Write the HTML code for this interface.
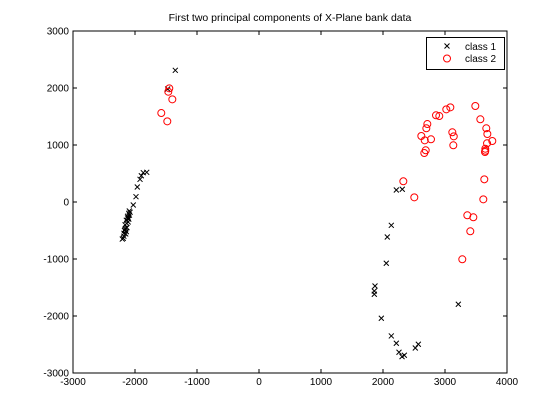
<!DOCTYPE html>
<html><head><meta charset="utf-8"><style>body{margin:0;background:#fff}svg{display:block;font-family:"Liberation Sans",sans-serif}</style></head>
<body>
<svg id="chart" width="560" height="420" viewBox="0 0 560 420"></svg>
<script>
const xTicks=[-3000,-2000,-1000,0,1000,2000,3000,4000];
const yTicks=[-3000,-2000,-1000,0,1000,2000,3000];
const class1X=[-1350,-1473,-1811,-1866,-1898,-1919,-1963,-1984,-2028,-2092,-2108,-2134,-2150,-2178,-2189,-2205,-2100,-2120,-2080,-2140,-2160,-2110,-2130,-2170,-2150,-2180,-2120,-2100,-2090,-2160,-2140,2215,2311,2134,2069,2053,1871,1860,1860,1973,2134,2215,2258,2307,2344,2521,2570,3215];
const class1Y=[2310,1982,521,514,461,398,263,93,-53,-158,-286,-374,-461,-549,-637,-650,-200,-250,-180,-320,-400,-350,-450,-500,-560,-600,-280,-300,-230,-480,-520,210,223,-409,-614,-1075,-1473,-1561,-1619,-2040,-2350,-2478,-2636,-2713,-2689,-2561,-2496,-1794];
const class2X=[3489,3086,3021,2855,2908,3570,2715,2699,3666,3683,3118,3141,2618,2673,2774,3763,3678,3650,3650,3645,3134,2689,2666,2328,3634,2505,3618,3360,3457,3408,3279,-1447,-1463,-1398,-1576,-1479];
const class2Y=[1684,1661,1626,1521,1508,1451,1368,1293,1293,1193,1223,1152,1158,1082,1100,1070,1030,935,900,877,995,907,859,363,398,82,47,-233,-268,-514,-1005,1994,1935,1801,1561,1415];
const L=73,R=507,T=31,B=373;
const xs=v=>L+(v+3000)/7000*(R-L);
const ys=v=>B-(v+3000)/6000*(B-T);
const svg=document.getElementById('chart');const NS='http://www.w3.org/2000/svg';
function mk(tag,attrs,parent){const e=document.createElementNS(NS,tag);for(const k in attrs)e.setAttribute(k,attrs[k]);(parent||svg).appendChild(e);return e;}
let t=mk('text',{x:(L+R)/2,y:21,'text-anchor':'middle','font-size':'10.5'});


t.textContent='First two principal components of X-Plane bank data';
let ax=mk('rect',{x:L,y:T,width:R-L,height:B-T,fill:'none',stroke:'#000','stroke-width':1});


xTicks.forEach(v=>{const x=xs(v);
mk('line',{x1:x,x2:x,y1:B,y2:B-4,stroke:'#000'});mk('line',{x1:x,x2:x,y1:T,y2:T+4,stroke:'#000'});
const l=mk('text',{x:x,y:B+12,'text-anchor':'middle','font-size':'10'});


l.textContent=v;});
yTicks.forEach(v=>{const y=ys(v);
mk('line',{x1:L,x2:L+4,y1:y,y2:y,stroke:'#000'});mk('line',{x1:R,x2:R-4,y1:y,y2:y,stroke:'#000'});
const l=mk('text',{x:L-4,y:y+3.5,'text-anchor':'end','font-size':'10'});


l.textContent=v;});
function cross(x,y,p){mk('path',{d:`M${x-2.5},${y-2.5}L${x+2.5},${y+2.5}M${x-2.5},${y+2.5}L${x+2.5},${y-2.5}`,stroke:'#000','stroke-width':1,fill:'none'},p);}
const g1=mk('g',{});
const g2=mk('g',{});
class2X.forEach((v,i)=>{const c=mk('circle',{cx:xs(v),cy:ys(class2Y[i]),r:3.5,fill:'none',stroke:'#f00','stroke-width':1},g2);

});
class1X.forEach((v,i)=>cross(xs(v),ys(class1Y[i]),g1));
const lg=mk('g',{});
mk('rect',{x:426.5,y:37.5,width:78,height:32,fill:'#fff',stroke:'#000'},lg);
cross(447,46,lg);
mk('circle',{cx:447,cy:58.5,r:3.5,fill:'none',stroke:'#f00'},lg);
const e1=mk('text',{x:465,y:50,'font-size':'10'},lg);e1.textContent='class 1';
const e2=mk('text',{x:465,y:62,'font-size':'10'},lg);e2.textContent='class 2';
</script>
</body></html>
